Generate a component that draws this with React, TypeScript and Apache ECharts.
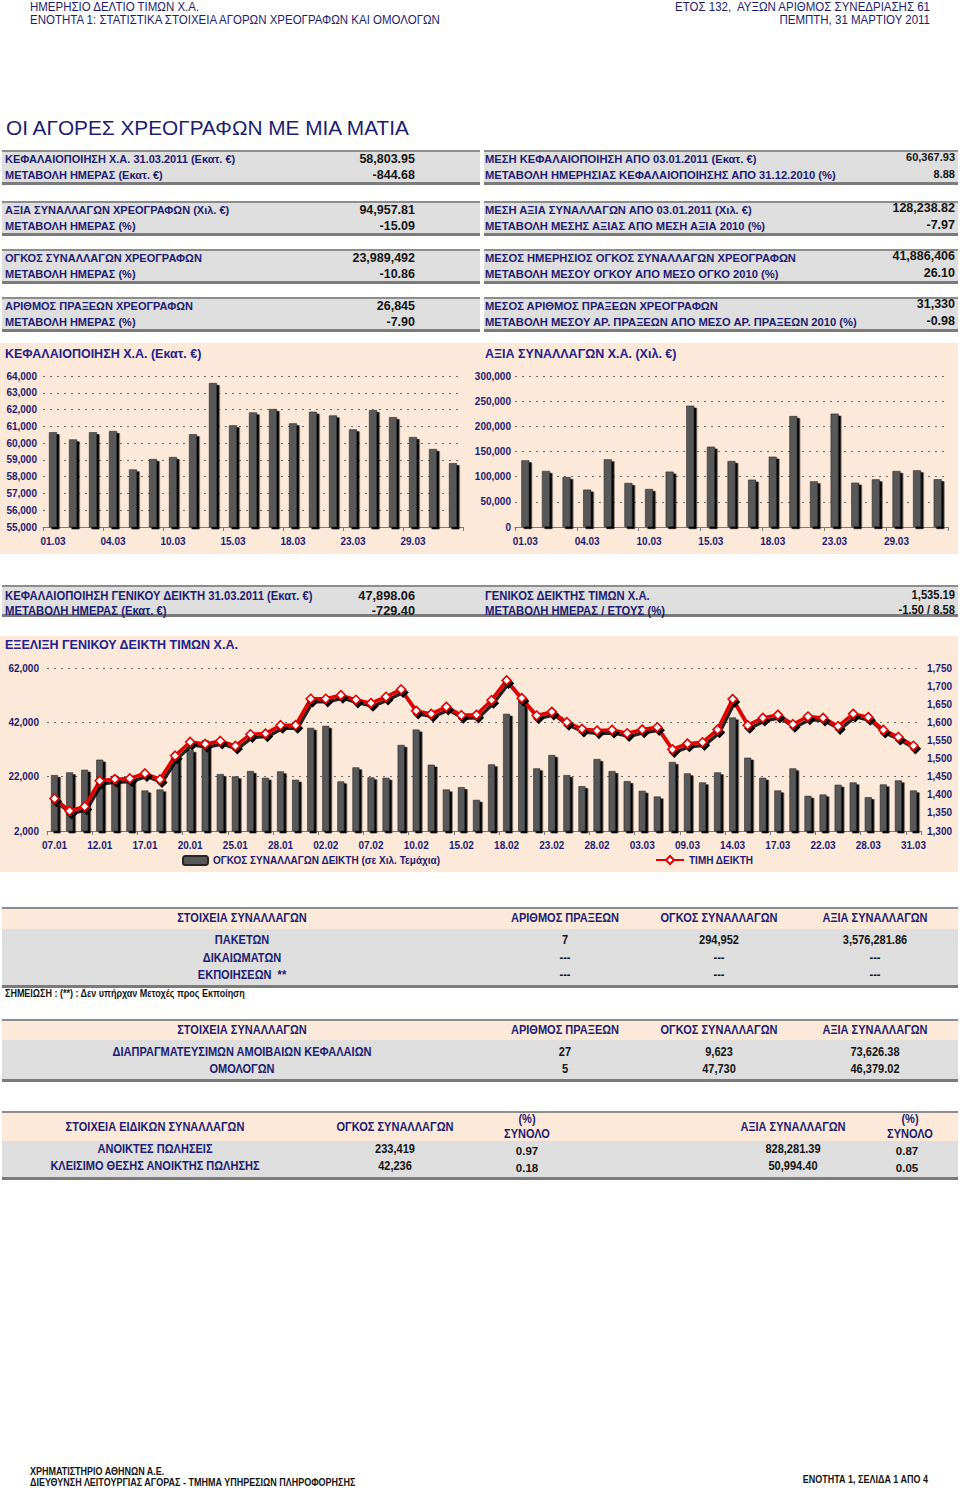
import React, { useEffect, useRef } from 'react';
import * as echarts from 'echarts';

const FONT = "'Liberation Sans', Arial, Helvetica, sans-serif";
const NAVY = '#1c1c70';
const TITLE_BLUE = '#22228a';
const INK = '#141414';
const PEACH = '#fde9da';
const BAND = '#dedede';

// ---------- texts / table data ----------
const headerLeft = ['ΗΜΕΡΗΣΙΟ ΔΕΛΤΙΟ ΤΙΜΩΝ Χ.Α.', 'ΕΝΟΤΗΤΑ 1: ΣΤΑΤΙΣΤΙΚΑ ΣΤΟΙΧΕΙΑ ΑΓΟΡΩΝ ΧΡΕΟΓΡΑΦΩΝ ΚΑΙ ΟΜΟΛΟΓΩΝ'];
const headerRight = ['ΕΤΟΣ 132,  ΑΥΞΩΝ ΑΡΙΘΜΟΣ ΣΥΝΕΔΡΙΑΣΗΣ 61', 'ΠΕΜΠΤΗ, 31 ΜΑΡΤΙΟΥ 2011'];
const pageTitle = 'ΟΙ ΑΓΟΡΕΣ ΧΡΕΟΓΡΑΦΩΝ ΜΕ ΜΙΑ ΜΑΤΙΑ';

const summaryLeftLabels = [
  'ΚΕΦΑΛΑΙΟΠΟΙΗΣΗ Χ.Α. 31.03.2011 (Εκατ. €)', 'ΜΕΤΑΒΟΛΗ ΗΜΕΡΑΣ (Εκατ. €)',
  'ΑΞΙΑ ΣΥΝΑΛΛΑΓΩΝ ΧΡΕΟΓΡΑΦΩΝ (Χιλ. €)', 'ΜΕΤΑΒΟΛΗ ΗΜΕΡΑΣ (%)',
  'ΟΓΚΟΣ ΣΥΝΑΛΛΑΓΩΝ ΧΡΕΟΓΡΑΦΩΝ', 'ΜΕΤΑΒΟΛΗ ΗΜΕΡΑΣ (%)',
  'ΑΡΙΘΜΟΣ ΠΡΑΞΕΩΝ ΧΡΕΟΓΡΑΦΩΝ', 'ΜΕΤΑΒΟΛΗ ΗΜΕΡΑΣ (%)',
];
const summaryLeftValues = ['58,803.95', '-844.68', '94,957.81', '-15.09', '23,989,492', '-10.86', '26,845', '-7.90'];
const summaryRightLabels = [
  'ΜΕΣΗ ΚΕΦΑΛΑΙΟΠΟΙΗΣΗ ΑΠΟ 03.01.2011 (Εκατ. €)', 'ΜΕΤΑΒΟΛΗ ΗΜΕΡΗΣΙΑΣ ΚΕΦΑΛΑΙΟΠΟΙΗΣΗΣ ΑΠΟ 31.12.2010 (%)',
  'ΜΕΣΗ ΑΞΙΑ ΣΥΝΑΛΛΑΓΩΝ ΑΠΟ 03.01.2011 (Χιλ. €)', 'ΜΕΤΑΒΟΛΗ ΜΕΣΗΣ ΑΞΙΑΣ ΑΠΟ ΜΕΣΗ ΑΞΙΑ 2010 (%)',
  'ΜΕΣΟΣ ΗΜΕΡΗΣΙΟΣ ΟΓΚΟΣ ΣΥΝΑΛΛΑΓΩΝ ΧΡΕΟΓΡΑΦΩΝ', 'ΜΕΤΑΒΟΛΗ ΜΕΣΟΥ ΟΓΚΟΥ ΑΠΟ ΜΕΣΟ ΟΓΚΟ 2010 (%)',
  'ΜΕΣΟΣ ΑΡΙΘΜΟΣ ΠΡΑΞΕΩΝ ΧΡΕΟΓΡΑΦΩΝ', 'ΜΕΤΑΒΟΛΗ ΜΕΣΟΥ ΑΡ. ΠΡΑΞΕΩΝ ΑΠΟ ΜΕΣΟ ΑΡ. ΠΡΑΞΕΩΝ 2010 (%)',
];
const summaryRightValues = ['60,367.93', '8.88', '128,238.82', '-7.97', '41,886,406', '26.10', '31,330', '-0.98'];

const capTitle = 'ΚΕΦΑΛΑΙΟΠΟΙΗΣΗ Χ.Α. (Εκατ. €)';
const valueTitle = 'ΑΞΙΑ ΣΥΝΑΛΛΑΓΩΝ Χ.Α. (Χιλ. €)';
const indexTitle = 'ΕΞΕΛΙΞΗ ΓΕΝΙΚΟΥ ΔΕΙΚΤΗ ΤΙΜΩΝ Χ.Α.';

const indexInfoLabels = [
  'ΚΕΦΑΛΑΙΟΠΟΙΗΣΗ ΓΕΝΙΚΟΥ ΔΕΙΚΤΗ 31.03.2011 (Εκατ. €)', 'ΜΕΤΑΒΟΛΗ ΗΜΕΡΑΣ (Εκατ. €)',
  'ΓΕΝΙΚΟΣ ΔΕΙΚΤΗΣ ΤΙΜΩΝ Χ.Α.', 'ΜΕΤΑΒΟΛΗ ΗΜΕΡΑΣ / ΕΤΟΥΣ (%)',
];
const indexInfoValues = ['47,898.06', '-729.40', '1,535.19', '-1.50 / 8.58'];

const tradeHeaders = ['ΣΤΟΙΧΕΙΑ ΣΥΝΑΛΛΑΓΩΝ', 'ΑΡΙΘΜΟΣ ΠΡΑΞΕΩΝ', 'ΟΓΚΟΣ ΣΥΝΑΛΛΑΓΩΝ', 'ΑΞΙΑ ΣΥΝΑΛΛΑΓΩΝ'];
const tradeRows = [
  ['ΠΑΚΕΤΩΝ', '7', '294,952', '3,576,281.86'],
  ['ΔΙΚΑΙΩΜΑΤΩΝ', '---', '---', '---'],
  ['ΕΚΠΟΙΗΣΕΩΝ  **', '---', '---', '---'],
];
const tradeNote = 'ΣΗΜΕΙΩΣΗ : (**) : Δεν υπήρχαν Μετοχές προς Εκποίηση';
const fundRows = [
  ['ΔΙΑΠΡΑΓΜΑΤΕΥΣΙΜΩΝ ΑΜΟΙΒΑΙΩΝ ΚΕΦΑΛΑΙΩΝ', '27', '9,623', '73,626.38'],
  ['ΟΜΟΛΟΓΩΝ', '5', '47,730', '46,379.02'],
];
const specialHeaders = ['ΣΤΟΙΧΕΙΑ ΕΙΔΙΚΩΝ ΣΥΝΑΛΛΑΓΩΝ', 'ΟΓΚΟΣ ΣΥΝΑΛΛΑΓΩΝ', '(%)\nΣΥΝΟΛΟ', 'ΑΞΙΑ ΣΥΝΑΛΛΑΓΩΝ', '(%)\nΣΥΝΟΛΟ'];
const specialRows = [
  ['ΑΝΟΙΚΤΕΣ ΠΩΛΗΣΕΙΣ', '233,419', '0.97', '828,281.39', '0.87'],
  ['ΚΛΕΙΣΙΜΟ ΘΕΣΗΣ ΑΝΟΙΚΤΗΣ ΠΩΛΗΣΗΣ', '42,236', '0.18', '50,994.40', '0.05'],
];
const footerLeft = ['ΧΡΗΜΑΤΙΣΤΗΡΙΟ ΑΘΗΝΩΝ Α.Ε.', 'ΔΙΕΥΘΥΝΣΗ ΛΕΙΤΟΥΡΓΙΑΣ ΑΓΟΡΑΣ - ΤΜΗΜΑ ΥΠΗΡΕΣΙΩΝ ΠΛΗΡΟΦΟΡΗΣΗΣ'];
const footerRight = 'ΕΝΟΤΗΤΑ 1, ΣΕΛΙΔΑ 1 ΑΠΟ 4';

// ---------- chart data ----------
const marchDates = ['01.03', '02.03', '03.03', '04.03', '08.03', '09.03', '10.03', '11.03', '14.03', '15.03', '16.03',
  '17.03', '18.03', '21.03', '22.03', '23.03', '24.03', '28.03', '29.03', '30.03', '31.03'];
const capitalization = [60650, 60220, 60650, 60720, 58430, 59050, 59170, 60530, 63580, 61060, 61830,
  62030, 61180, 61870, 61650, 60820, 61970, 61550, 60360, 59650, 58804];
const tradeValue = [132400, 111300, 99300, 74200, 134400, 87400, 75500, 110000, 241000, 159600, 131100,
  94000, 139700, 220500, 90700, 225200, 88000, 94700, 111300, 112600, 94958];

const indexDates = ['07.01', '10.01', '11.01', '12.01', '13.01', '14.01', '17.01', '18.01', '19.01', '20.01', '21.01',
  '24.01', '25.01', '26.01', '27.01', '28.01', '31.01', '01.02', '02.02', '03.02', '04.02', '07.02', '08.02', '09.02',
  '10.02', '11.02', '14.02', '15.02', '16.02', '17.02', '18.02', '21.02', '22.02', '23.02', '24.02', '25.02', '28.02',
  '01.03', '02.03', '03.03', '04.03', '08.03', '09.03', '10.03', '11.03', '14.03', '15.03', '16.03', '17.03', '18.03',
  '21.03', '22.03', '23.03', '24.03', '28.03', '29.03', '30.03', '31.03'];
const indexVolume = [22580, 23570, 24550, 28250, 22330, 21960, 16910, 17280, 28990, 31820, 35400, 22950, 22090, 24060,
  21590, 23930, 20850, 39950, 40690, 20240, 25410, 21720, 21590, 33670, 39340, 26400, 17280, 18140, 13460, 26520,
  45130, 51540, 25040, 29970, 22580, 18510, 28490, 24060, 20360, 16790, 14690, 27380, 23200, 19870, 23570, 43770,
  28990, 21590, 16910, 25040, 14940, 15430, 19010, 19870, 14450, 19130, 20610, 16910];
const indexPrice = [1389.6, 1355.4, 1367.5, 1438.6, 1443.2, 1445.1, 1458.9, 1442.3, 1507.9, 1545.8, 1540.2, 1548.6,
  1534.7, 1567.0, 1568.9, 1592.0, 1592.0, 1665.0, 1665.0, 1675.1, 1662.2, 1653.0, 1670.5, 1690.8, 1631.7, 1623.4,
  1642.8, 1619.7, 1620.6, 1661.3, 1715.8, 1666.8, 1618.8, 1629.0, 1600.3, 1581.8, 1577.2, 1579.0, 1569.8, 1580.0,
  1586.4, 1525.5, 1541.2, 1544.9, 1580.0, 1664.1, 1592.0, 1612.3, 1620.6, 1594.8, 1616.0, 1612.3, 1589.2, 1623.4,
  1614.2, 1579.0, 1559.6, 1535.19];
const volumeName = 'ΟΓΚΟΣ ΣΥΝΑΛΛΑΓΩΝ ΔΕΙΚΤΗ (σε Χιλ. Τεμάχια)';
const priceName = 'ΤΙΜΗ ΔΕΙΚΤΗ';

// ---------- helpers ----------
const fmt = (v: number) => String(v).replace(/\B(?=(\d{3})+(?!\d))/g, ',');

type TOpt = { size?: number; weight?: string; color?: string; align?: string; sx?: number; lh?: number };
function txt(x: number, y: number, text: string, o: TOpt = {}) {
  const { size = 11, weight = 'bold', color = NAVY, align = 'left', sx = 1, lh } = o;
  const style: any = {
    x: 0, y: 0, text, fill: color, fontSize: size, fontWeight: weight, fontFamily: FONT,
    textAlign: align, textVerticalAlign: 'middle', align, verticalAlign: 'middle',
  };
  if (lh) style.lineHeight = lh;
  return { type: 'text', x, y, scaleX: sx, z: 20, silent: true, style };
}
function rect(x: number, y: number, w: number, h: number, fill: string) {
  return { type: 'rect', z: -10, silent: true, shape: { x, y, width: w, height: h }, style: { fill } };
}
function band(x: number, y: number, w: number, h: number) {
  return [rect(x, y, w, h, BAND), rect(x, y, w, 2, '#8d8d8d'), rect(x, y + h - 3, w, 3, '#7b7b7b')];
}

const NARROW = 0.92;

function buildGraphics() {
  const g: any[] = [];
  // header
  g.push(txt(30, 7, headerLeft[0], { size: 12.5, weight: 'normal', sx: NARROW }));
  g.push(txt(30, 20, headerLeft[1], { size: 12.5, weight: 'normal', sx: NARROW }));
  g.push(txt(930, 7, headerRight[0], { size: 12.5, weight: 'normal', sx: NARROW, align: 'right' }));
  g.push(txt(930, 20, headerRight[1], { size: 12.5, weight: 'normal', sx: NARROW, align: 'right' }));
  g.push(txt(6, 127, pageTitle, { size: 20.8, weight: 'normal', color: NAVY }));

  // summary blocks
  const blockTops = [150, 201, 249, 297];
  blockTops.forEach((top, b) => {
    g.push(...band(2, top, 478, 35), ...band(484, top, 474, 35));
    for (let r = 0; r < 2; r++) {
      const i = b * 2 + r;
      const y = top + 8.5 + r * 16.5;
      g.push(txt(5, y, summaryLeftLabels[i], { size: 11 }));
      g.push(txt(415, y, summaryLeftValues[i], { size: 12.5, color: INK, align: 'right' }));
      g.push(txt(485, y, summaryRightLabels[i], { size: 11.2 }));
      g.push(txt(955, y - 1.5, summaryRightValues[i], { size: b === 0 ? 11 : 12.5, color: INK, align: 'right' }));
    }
  });

  // small charts panel
  g.push(rect(0, 343, 958, 211, PEACH));
  g.push(txt(5, 354, capTitle, { size: 12.5, color: TITLE_BLUE }));
  g.push(txt(485, 354, valueTitle, { size: 12.5, color: TITLE_BLUE }));

  // index info band
  g.push(...band(2, 585, 956, 32));
  [0, 1].forEach((r) => {
    const y = 595 + r * 15;
    g.push(txt(5, y, indexInfoLabels[r], { size: 12, sx: 0.94 }));
    g.push(txt(415, y, indexInfoValues[r], { size: 13, sx: 0.98, color: INK, align: 'right' }));
    g.push(txt(485, y, indexInfoLabels[r + 2], { size: 12, sx: 0.94 }));
    g.push(txt(955, y, indexInfoValues[r + 2], { size: 12, sx: 0.93, color: INK, align: 'right' }));
  });

  // index chart panel
  g.push(rect(0, 636, 958, 236, PEACH));
  g.push(txt(5, 645, indexTitle, { size: 12.5, color: TITLE_BLUE }));

  // table A
  const colsA = [242, 565, 719, 875];
  g.push(rect(2, 907, 956, 2, '#8d8d8d'), rect(2, 909, 956, 20, PEACH), rect(2, 929, 956, 56, BAND), rect(2, 985, 956, 3, '#7b7b7b'));
  tradeHeaders.forEach((h, c) => g.push(txt(colsA[c], 918, h, { size: 12, sx: NARROW, align: 'center' })));
  tradeRows.forEach((row, r) => {
    const y = 940 + r * 17.5;
    row.forEach((v, c) => g.push(txt(colsA[c], y, v, { size: 12, sx: NARROW, align: 'center', color: c === 0 ? NAVY : INK })));
  });
  g.push(txt(5, 993, tradeNote, { size: 10, sx: 0.9, color: INK }));

  // table B
  g.push(rect(2, 1019, 956, 2, '#8d8d8d'), rect(2, 1021, 956, 19, PEACH), rect(2, 1040, 956, 39, BAND), rect(2, 1079, 956, 3, '#7b7b7b'));
  tradeHeaders.forEach((h, c) => g.push(txt(colsA[c], 1030, h, { size: 12, sx: NARROW, align: 'center' })));
  fundRows.forEach((row, r) => {
    const y = 1052 + r * 17;
    row.forEach((v, c) => g.push(txt(colsA[c], y, v, { size: 12, sx: NARROW, align: 'center', color: c === 0 ? NAVY : INK })));
  });

  // table C
  const colsC = [155, 395, 527, 793, 910];
  g.push(rect(2, 1111, 956, 2, '#8d8d8d'), rect(2, 1113, 956, 28, PEACH), rect(2, 1141, 956, 36, BAND), rect(2, 1177, 956, 3, '#7b7b7b'));
  specialHeaders.forEach((h, c) => g.push(txt(colsC[c], 1126.5, h, { size: 12, sx: NARROW, align: 'center', lh: 15 })));
  specialRows.forEach((row, r) => {
    const y = 1149 + r * 17;
    row.forEach((v, c) => {
      const pct = c === 2 || c === 4;
      g.push(txt(colsC[c] - (c === 4 ? 3 : 0), pct ? y + 2 : y, v, {
        size: pct ? 11.5 : 12, sx: pct ? 1 : NARROW, align: 'center', color: c === 0 ? NAVY : INK,
      }));
    });
  });

  // footer
  g.push(txt(30, 1471, footerLeft[0], { size: 10, sx: 0.9, color: INK }));
  g.push(txt(30, 1482, footerLeft[1], { size: 10, sx: 0.9, color: INK }));
  g.push(txt(928, 1479, footerRight, { size: 10, sx: 0.9, color: INK, align: 'right' }));
  return g;
}

const axisLabel = { color: NAVY, fontSize: 10, fontWeight: 'bold' as const, fontFamily: FONT };
const splitLine = { show: true, lineStyle: { color: '#6a6a6a', type: [2, 5] as any, width: 1 } };
const barItem = {
  color: '#585858', borderColor: '#262626', borderWidth: 0.6,
  shadowColor: '#000', shadowOffsetX: 2.5, shadowOffsetY: 2, shadowBlur: 0,
};

function catAxis(gridIndex: number, data: string[]) {
  return {
    type: 'category', gridIndex, data,
    axisLine: { show: true, lineStyle: { color: '#7a7a7a', width: 1 } },
    axisTick: { show: true, interval: 2, length: 4, lineStyle: { color: '#7a7a7a' } },
    axisLabel: { ...axisLabel, interval: 2, margin: 9 },
    splitLine: { show: false },
  };
}
function valAxis(gridIndex: number, min: number, max: number, interval: number, margin: number, extra: any = {}) {
  return {
    type: 'value', gridIndex, min, max, interval,
    axisLine: { show: false }, axisTick: { show: false },
    axisLabel: { ...axisLabel, margin, formatter: (v: number) => fmt(v) },
    splitLine, ...extra,
  };
}

function buildOption() {
  return {
    animation: false,
    backgroundColor: '#ffffff',
    textStyle: { fontFamily: FONT },
    graphic: { elements: buildGraphics() },
    legend: [
      {
        data: [volumeName], left: 182, top: 855, padding: 0, itemWidth: 25, itemHeight: 9,
        textStyle: { color: NAVY, fontSize: 10, fontWeight: 'bold', fontFamily: FONT },
      },
      {
        data: [priceName], left: 655, top: 855, padding: 0, itemWidth: 28, itemHeight: 10,
        textStyle: { color: NAVY, fontSize: 10, fontWeight: 'bold', fontFamily: FONT },
      },
    ],
    grid: [
      { left: 43, top: 376, width: 420, height: 151 },
      { left: 515, top: 376, width: 433, height: 151 },
      { left: 47, top: 668, width: 874, height: 163 },
    ],
    xAxis: [catAxis(0, marchDates), catAxis(1, marchDates), catAxis(2, indexDates)],
    yAxis: [
      valAxis(0, 55000, 64000, 1000, 6),
      valAxis(1, 0, 300000, 50000, 4),
      valAxis(2, 2000, 62000, 20000, 8),
      valAxis(2, 1300, 1750, 50, 6, { position: 'right', splitLine: { show: false } }),
    ],
    series: [
      { type: 'bar', name: 'cap', xAxisIndex: 0, yAxisIndex: 0, data: capitalization, barWidth: 8, itemStyle: barItem },
      { type: 'bar', name: 'value', xAxisIndex: 1, yAxisIndex: 1, data: tradeValue, barWidth: 8, itemStyle: barItem },
      { type: 'bar', name: volumeName, xAxisIndex: 2, yAxisIndex: 2, data: indexVolume, barWidth: 7, itemStyle: barItem },
      {
        type: 'line', name: priceName, xAxisIndex: 2, yAxisIndex: 3, data: indexPrice, z: 5,
        symbol: 'diamond', symbolSize: 9, showAllSymbol: true,
        lineStyle: { color: '#e40000', width: 3.5, shadowColor: 'rgba(0,0,0,0.85)', shadowOffsetX: 2, shadowOffsetY: 3, shadowBlur: 0 },
        itemStyle: { color: '#ffffff', borderColor: '#e40000', borderWidth: 1.6, shadowColor: '#000', shadowOffsetX: 2, shadowOffsetY: 3, shadowBlur: 0 },
      },
    ],
  };
}

export default function App() {
  const ref = useRef<HTMLDivElement>(null);
  useEffect(() => {
    document.body.style.margin = '0';
    const chart = echarts.init(ref.current as HTMLDivElement, null, { renderer: 'svg' });
    chart.setOption(buildOption() as any);
    return () => chart.dispose();
  }, []);
  return <div ref={ref} style={{ width: 960, height: 1488, background: '#fff' }} />;
}
